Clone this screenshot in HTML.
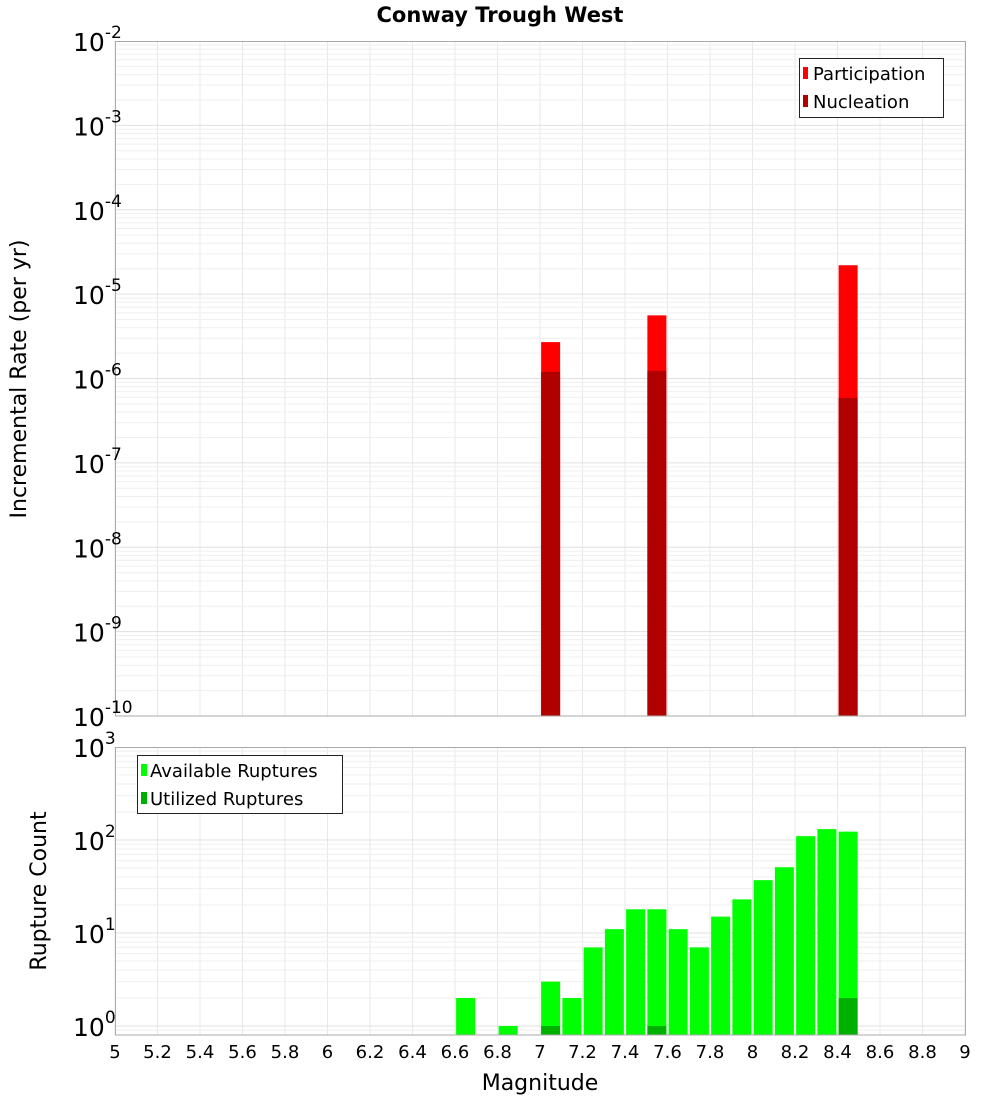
<!DOCTYPE html>
<html><head><meta charset="utf-8"><style>
body{margin:0;background:#fff;}
svg{display:block;font-family:"DejaVu Sans","Liberation Sans",sans-serif;}
</style></head><body>
<svg id="chart" width="1000" height="1100" viewBox="0 0 1000 1100" xmlns="http://www.w3.org/2000/svg">
<rect width="1000" height="1100" fill="#fff"/>
<text x="500" y="22" text-anchor="middle" font-size="21" font-weight="bold">Conway Trough West</text>
<g id="top-grid"></g><g id="top-bars"></g>
<g id="bot-grid"></g><g id="bot-bars"></g>
<rect x="115.5" y="41.5" width="850" height="674.5" fill="none" stroke="#aaa"/>
<rect x="115.5" y="747.5" width="850" height="287.5" fill="none" stroke="#aaa"/>
<g id="top-yticks"></g><g id="bot-yticks"></g><g id="xticks"></g>
<text transform="translate(26,379) rotate(-90)" text-anchor="middle" font-size="22">Incremental Rate (per yr)</text>
<text transform="translate(46,891) rotate(-90)" text-anchor="middle" font-size="22">Rupture Count</text>
<text x="540" y="1090" text-anchor="middle" font-size="22">Magnitude</text>
<g>
<rect x="799.5" y="58.5" width="144" height="59" fill="#fff" stroke="#222"/>
<rect x="803" y="67" width="5" height="12" fill="#ff0000"/>
<text x="813" y="80" font-size="18">Participation</text>
<rect x="803" y="95" width="5" height="12" fill="#b00000"/>
<text x="813" y="108" font-size="18">Nucleation</text>
</g>
<g>
<rect x="137.5" y="755.5" width="205" height="58" fill="#fff" stroke="#222"/>
<rect x="141" y="764" width="6" height="12" fill="#00ff00"/>
<text x="150" y="777" font-size="18">Available Ruptures</text>
<rect x="141" y="792" width="6" height="12" fill="#00b000"/>
<text x="150" y="805" font-size="18">Utilized Ruptures</text>
</g>
</svg>
<script>
const rateMags=[7.05,7.55,8.45];
const participation=[2.7e-6,5.6e-6,2.2e-5];
const nucleation=[1.2e-6,1.23e-6,5.9e-7];
const countMags=[6.65,6.85,7.05,7.15,7.25,7.35,7.45,7.55,7.65,7.75,7.85,7.95,8.05,8.15,8.25,8.35,8.45];
const available=[2,1,3,2,7,11,18,18,11,7,15,23,37,51,110,131,123];
const utilizedMags=[7.05,7.55,8.45];
const utilized=[1,1,2];
const xTickLabels=["5","5.2","5.4","5.6","5.8","6","6.2","6.4","6.6","6.8","7","7.2","7.4","7.6","7.8","8","8.2","8.4","8.6","8.8","9"];
const topExps=[-10,-9,-8,-7,-6,-5,-4,-3,-2];
const botExps=[0,1,2,3];

const NS="http://www.w3.org/2000/svg";
function el(tag,attrs,parent){const e=document.createElementNS(NS,tag);for(const k in attrs)e.setAttribute(k,attrs[k]);parent.appendChild(e);return e;}
const X=m=>115+(m-5)*212.5;
const YT=v=>716-(Math.log10(v)+10)*84.375;
const YB=v=>Math.min(1035,1026-Math.log10(v)*93);
const g=id=>document.getElementById(id);

// grids
function grid(gp,y0,y1,yfn,lo,hi){
  for(const t of xTickLabels){const x=X(+t);const l=el('line',{x1:x,x2:x,y1:y0,y2:y1,stroke:'#e8e8e8'},gp);}
  for(let e=lo;e<hi;e++)for(let k=1;k<10;k++){const y=yfn(k*Math.pow(10,e));if(y<y0||y>y1)continue;el('line',{x1:115,x2:965,y1:y,y2:y,stroke:k==1?'#e0e0e0':'#efefef'},gp);}
}
grid(g('top-grid'),41,716,YT,-10,-2);
grid(g('bot-grid'),747,1035,YB,-1,3);

// top bars
const tb=g('top-bars');
rateMags.forEach((m,i)=>{
  const r=el('rect',{x:X(m)-9.5,y:YT(participation[i]),width:19,height:716-YT(participation[i]),fill:'#ff0000'},tb);
  
  
  const n=el('rect',{x:X(m)-9.5,y:YT(nucleation[i]),width:19,height:716-YT(nucleation[i]),fill:'#b00000'},tb);
  
  
});
// bottom bars
const bb=g('bot-bars');
countMags.forEach((m,i)=>{
  const r=el('rect',{x:X(m)-9.5,y:YB(available[i]),width:19,height:1035-YB(available[i]),fill:'#00ff00'},bb);
  
  
});
utilizedMags.forEach((m,i)=>{
  const r=el('rect',{x:X(m)-9.5,y:YB(utilized[i]),width:19,height:1035-YB(utilized[i]),fill:'#00b000'},bb);
  
  
});
// y ticks
function yticks(gp,exps,yfn,name){
  exps.forEach(e=>{
    const y=yfn(Math.pow(10,e));
    const t=el('text',{x:73,y:y+10,'font-size':25},gp);
    
    
    t.textContent='10';
    const s=el('tspan',{dy:-13,'font-size':17},t);s.textContent=String(e);
  });
}
yticks(g('top-yticks'),topExps,YT,'top-y-tick-label');
yticks(g('bot-yticks'),botExps,e=>1026-Math.log10(e)*93,'bottom-y-tick-label');
// x ticks
const xt=g('xticks');
xTickLabels.forEach(s=>{
  const t=el('text',{x:X(+s),y:1058,'text-anchor':'middle','font-size':18},xt);
  
  
  t.textContent=s;
});
</script>
</body></html>
